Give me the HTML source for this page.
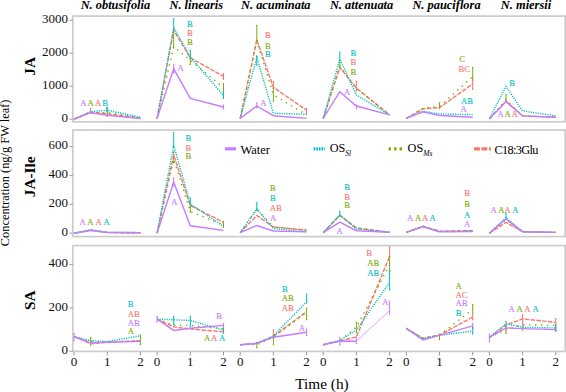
<!DOCTYPE html><html><head><meta charset="utf-8"><style>html,body{margin:0;padding:0;background:#fff;overflow:hidden;}svg{display:block;}</style></head><body>
<svg width="566" height="392" viewBox="0 0 566 392">
<rect width="566" height="392" fill="#fff"/>
<rect x="72.8" y="16.1" width="492.40000000000003" height="105.69999999999999" fill="none" stroke="#cccccc" stroke-width="1.7"/>
<line x1="69.6" y1="119.2" x2="72.8" y2="119.2" stroke="#999" stroke-width="1"/>
<text x="67.9" y="122.1" text-anchor="end" font-family="Liberation Serif, serif" font-size="13" fill="#111">0</text>
<line x1="69.6" y1="86.2" x2="72.8" y2="86.2" stroke="#999" stroke-width="1"/>
<text x="67.9" y="89.1" text-anchor="end" font-family="Liberation Serif, serif" font-size="13" fill="#111">1000</text>
<line x1="69.6" y1="53.2" x2="72.8" y2="53.2" stroke="#999" stroke-width="1"/>
<text x="67.9" y="56.1" text-anchor="end" font-family="Liberation Serif, serif" font-size="13" fill="#111">2000</text>
<line x1="69.6" y1="20.2" x2="72.8" y2="20.2" stroke="#999" stroke-width="1"/>
<text x="67.9" y="23.1" text-anchor="end" font-family="Liberation Serif, serif" font-size="13" fill="#111">3000</text>
<rect x="72.8" y="130.1" width="492.40000000000003" height="106.5" fill="none" stroke="#cccccc" stroke-width="1.7"/>
<line x1="69.6" y1="233.2" x2="72.8" y2="233.2" stroke="#999" stroke-width="1"/>
<text x="67.9" y="236.1" text-anchor="end" font-family="Liberation Serif, serif" font-size="13" fill="#111">0</text>
<line x1="69.6" y1="204.3" x2="72.8" y2="204.3" stroke="#999" stroke-width="1"/>
<text x="67.9" y="207.2" text-anchor="end" font-family="Liberation Serif, serif" font-size="13" fill="#111">200</text>
<line x1="69.6" y1="175.4" x2="72.8" y2="175.4" stroke="#999" stroke-width="1"/>
<text x="67.9" y="178.3" text-anchor="end" font-family="Liberation Serif, serif" font-size="13" fill="#111">400</text>
<line x1="69.6" y1="146.5" x2="72.8" y2="146.5" stroke="#999" stroke-width="1"/>
<text x="67.9" y="149.4" text-anchor="end" font-family="Liberation Serif, serif" font-size="13" fill="#111">600</text>
<rect x="72.8" y="245.6" width="492.40000000000003" height="105.79999999999998" fill="none" stroke="#cccccc" stroke-width="1.7"/>
<line x1="69.6" y1="351.2" x2="72.8" y2="351.2" stroke="#999" stroke-width="1"/>
<text x="67.9" y="354.1" text-anchor="end" font-family="Liberation Serif, serif" font-size="13" fill="#111">0</text>
<line x1="69.6" y1="307.9" x2="72.8" y2="307.9" stroke="#999" stroke-width="1"/>
<text x="67.9" y="310.8" text-anchor="end" font-family="Liberation Serif, serif" font-size="13" fill="#111">200</text>
<line x1="69.6" y1="264.4" x2="72.8" y2="264.4" stroke="#999" stroke-width="1"/>
<text x="67.9" y="267.3" text-anchor="end" font-family="Liberation Serif, serif" font-size="13" fill="#111">400</text>
<line x1="74.0" y1="352" x2="74.0" y2="355.4" stroke="#999" stroke-width="1"/>
<text x="74.0" y="365.6" text-anchor="middle" font-family="Liberation Serif, serif" font-size="13" fill="#111">0</text>
<line x1="107.2" y1="352" x2="107.2" y2="355.4" stroke="#999" stroke-width="1"/>
<text x="107.2" y="365.6" text-anchor="middle" font-family="Liberation Serif, serif" font-size="13" fill="#111">1</text>
<line x1="140.4" y1="352" x2="140.4" y2="355.4" stroke="#999" stroke-width="1"/>
<text x="140.4" y="365.6" text-anchor="middle" font-family="Liberation Serif, serif" font-size="13" fill="#111">2</text>
<line x1="157.1" y1="352" x2="157.1" y2="355.4" stroke="#999" stroke-width="1"/>
<text x="157.1" y="365.6" text-anchor="middle" font-family="Liberation Serif, serif" font-size="13" fill="#111">0</text>
<line x1="190.3" y1="352" x2="190.3" y2="355.4" stroke="#999" stroke-width="1"/>
<text x="190.3" y="365.6" text-anchor="middle" font-family="Liberation Serif, serif" font-size="13" fill="#111">1</text>
<line x1="223.5" y1="352" x2="223.5" y2="355.4" stroke="#999" stroke-width="1"/>
<text x="223.5" y="365.6" text-anchor="middle" font-family="Liberation Serif, serif" font-size="13" fill="#111">2</text>
<line x1="240.2" y1="352" x2="240.2" y2="355.4" stroke="#999" stroke-width="1"/>
<text x="240.2" y="365.6" text-anchor="middle" font-family="Liberation Serif, serif" font-size="13" fill="#111">0</text>
<line x1="273.4" y1="352" x2="273.4" y2="355.4" stroke="#999" stroke-width="1"/>
<text x="273.4" y="365.6" text-anchor="middle" font-family="Liberation Serif, serif" font-size="13" fill="#111">1</text>
<line x1="306.6" y1="352" x2="306.6" y2="355.4" stroke="#999" stroke-width="1"/>
<text x="306.6" y="365.6" text-anchor="middle" font-family="Liberation Serif, serif" font-size="13" fill="#111">2</text>
<line x1="323.2" y1="352" x2="323.2" y2="355.4" stroke="#999" stroke-width="1"/>
<text x="323.2" y="365.6" text-anchor="middle" font-family="Liberation Serif, serif" font-size="13" fill="#111">0</text>
<line x1="356.4" y1="352" x2="356.4" y2="355.4" stroke="#999" stroke-width="1"/>
<text x="356.4" y="365.6" text-anchor="middle" font-family="Liberation Serif, serif" font-size="13" fill="#111">1</text>
<line x1="389.6" y1="352" x2="389.6" y2="355.4" stroke="#999" stroke-width="1"/>
<text x="389.6" y="365.6" text-anchor="middle" font-family="Liberation Serif, serif" font-size="13" fill="#111">2</text>
<line x1="406.3" y1="352" x2="406.3" y2="355.4" stroke="#999" stroke-width="1"/>
<text x="406.3" y="365.6" text-anchor="middle" font-family="Liberation Serif, serif" font-size="13" fill="#111">0</text>
<line x1="439.5" y1="352" x2="439.5" y2="355.4" stroke="#999" stroke-width="1"/>
<text x="439.5" y="365.6" text-anchor="middle" font-family="Liberation Serif, serif" font-size="13" fill="#111">1</text>
<line x1="472.7" y1="352" x2="472.7" y2="355.4" stroke="#999" stroke-width="1"/>
<text x="472.7" y="365.6" text-anchor="middle" font-family="Liberation Serif, serif" font-size="13" fill="#111">2</text>
<line x1="489.4" y1="352" x2="489.4" y2="355.4" stroke="#999" stroke-width="1"/>
<text x="489.4" y="365.6" text-anchor="middle" font-family="Liberation Serif, serif" font-size="13" fill="#111">0</text>
<line x1="522.6" y1="352" x2="522.6" y2="355.4" stroke="#999" stroke-width="1"/>
<text x="522.6" y="365.6" text-anchor="middle" font-family="Liberation Serif, serif" font-size="13" fill="#111">1</text>
<line x1="555.8" y1="352" x2="555.8" y2="355.4" stroke="#999" stroke-width="1"/>
<text x="555.8" y="365.6" text-anchor="middle" font-family="Liberation Serif, serif" font-size="13" fill="#111">2</text>
<path d="M90.6,108.5V113M89.9,108.5h1.4M89.9,113h1.4" stroke="#F8766D" stroke-width="1" fill="none"/>
<path d="M107.2,108.1V116.3M106.5,108.1h1.4M106.5,116.3h1.4" stroke="#7CAE00" stroke-width="1" fill="none"/>
<path d="M107.2,107.5V112M106.5,107.5h1.4M106.5,112h1.4" stroke="#00BFC4" stroke-width="1" fill="none"/>
<polyline points="74.0,119.0 90.6,112.3 107.2,113.8 140.4,118.2" fill="none" stroke="#F8766D" stroke-width="1.4" stroke-dasharray="4.5 1.3"/>
<polyline points="74.0,119.0 90.6,113.0 107.2,112.5 140.4,118.0" fill="none" stroke="#7CAE00" stroke-width="1.4" stroke-dasharray="1.4 4.6"/>
<polyline points="74.0,119.0 90.6,111.7 107.2,110.2 140.4,117.3" fill="none" stroke="#00BFC4" stroke-width="1.4" stroke-dasharray="1.2 1.2"/>
<polyline points="74.0,119.0 90.6,112.7 107.2,115.2 140.4,118.5" fill="none" stroke="#C77CFF" stroke-width="1.4"/>
<text x="83.3" y="106.1" text-anchor="middle" font-family="Liberation Serif, serif" font-size="8.6" fill="#C77CFF" stroke="#C77CFF" stroke-width="0.12">A</text>
<text x="90.7" y="106.1" text-anchor="middle" font-family="Liberation Serif, serif" font-size="8.6" fill="#7CAE00" stroke="#7CAE00" stroke-width="0.12">A</text>
<text x="98.1" y="106.1" text-anchor="middle" font-family="Liberation Serif, serif" font-size="8.6" fill="#F8766D" stroke="#F8766D" stroke-width="0.12">A</text>
<text x="105.2" y="106.1" text-anchor="middle" font-family="Liberation Serif, serif" font-size="8.6" fill="#00BFC4" stroke="#00BFC4" stroke-width="0.12">B</text>
<path d="M173.7,18.8V29.5M173.0,18.8h1.4M173.0,29.5h1.4" stroke="#00BFC4" stroke-width="1" fill="none"/>
<path d="M173.7,31.8V47.9M173.0,31.8h1.4M173.0,47.9h1.4" stroke="#7CAE00" stroke-width="1" fill="none"/>
<path d="M173.7,64.6V73M173.0,64.6h1.4M173.0,73h1.4" stroke="#C77CFF" stroke-width="1" fill="none"/>
<path d="M190.3,50.5V59.2M189.6,50.5h1.4M189.6,59.2h1.4" stroke="#00BFC4" stroke-width="1" fill="none"/>
<path d="M190.3,57.2V64.5M189.6,57.2h1.4M189.6,64.5h1.4" stroke="#7CAE00" stroke-width="1" fill="none"/>
<path d="M223.5,73.5V79.3M222.8,73.5h1.4M222.8,79.3h1.4" stroke="#F8766D" stroke-width="1" fill="none"/>
<path d="M223.5,83.7V93.6M222.8,83.7h1.4M222.8,93.6h1.4" stroke="#7CAE00" stroke-width="1" fill="none"/>
<path d="M223.5,91.7V98.4M222.8,91.7h1.4M222.8,98.4h1.4" stroke="#00BFC4" stroke-width="1" fill="none"/>
<path d="M223.5,105V109M222.8,105h1.4M222.8,109h1.4" stroke="#C77CFF" stroke-width="1" fill="none"/>
<polyline points="157.1,118.4 173.7,30.2 190.3,57.8 223.5,76.4" fill="none" stroke="#F8766D" stroke-width="1.4" stroke-dasharray="4.5 1.3"/>
<polyline points="157.1,118.4 173.7,46.7 190.3,60.0 223.5,87.9" fill="none" stroke="#7CAE00" stroke-width="1.4" stroke-dasharray="1.4 4.6"/>
<polyline points="157.1,118.4 173.7,27.4 190.3,57.0 223.5,95.6" fill="none" stroke="#00BFC4" stroke-width="1.4" stroke-dasharray="1.2 1.2"/>
<polyline points="157.1,118.4 173.7,68.8 190.3,98.4 223.5,107.0" fill="none" stroke="#C77CFF" stroke-width="1.4"/>
<text x="189.9" y="26.8" text-anchor="middle" font-family="Liberation Serif, serif" font-size="8.6" fill="#00BFC4" stroke="#00BFC4" stroke-width="0.12">B</text>
<text x="189.9" y="36.0" text-anchor="middle" font-family="Liberation Serif, serif" font-size="8.6" fill="#F8766D" stroke="#F8766D" stroke-width="0.12">B</text>
<text x="189.9" y="45.2" text-anchor="middle" font-family="Liberation Serif, serif" font-size="8.6" fill="#7CAE00" stroke="#7CAE00" stroke-width="0.12">B</text>
<text x="180.7" y="70.7" text-anchor="middle" font-family="Liberation Serif, serif" font-size="8.6" fill="#C77CFF" stroke="#C77CFF" stroke-width="0.12">A</text>
<path d="M256.8,25.4V40.7M256.1,25.4h1.4M256.1,40.7h1.4" stroke="#7CAE00" stroke-width="1" fill="none"/>
<path d="M256.8,56V65.2M256.1,56h1.4M256.1,65.2h1.4" stroke="#00BFC4" stroke-width="1" fill="none"/>
<path d="M273.4,81.7V88.3M272.7,81.7h1.4M272.7,88.3h1.4" stroke="#F8766D" stroke-width="1" fill="none"/>
<path d="M273.4,88.3V101.3M272.7,88.3h1.4M272.7,101.3h1.4" stroke="#7CAE00" stroke-width="1" fill="none"/>
<path d="M256.8,103V108M256.1,103h1.4M256.1,108h1.4" stroke="#C77CFF" stroke-width="1" fill="none"/>
<path d="M306.6,108.5V113.8M305.9,108.5h1.4M305.9,113.8h1.4" stroke="#F8766D" stroke-width="1" fill="none"/>
<polyline points="240.2,118.4 256.8,39.8 273.4,87.4 306.6,110.2" fill="none" stroke="#F8766D" stroke-width="1.4" stroke-dasharray="4.5 1.3"/>
<polyline points="240.2,118.4 256.8,41.0 273.4,94.8 306.6,115.0" fill="none" stroke="#7CAE00" stroke-width="1.4" stroke-dasharray="1.4 4.6"/>
<polyline points="240.2,118.4 256.8,57.5 273.4,113.3 306.6,114.3" fill="none" stroke="#00BFC4" stroke-width="1.4" stroke-dasharray="1.2 1.2"/>
<polyline points="240.2,118.4 256.8,106.0 273.4,115.7 306.6,118.4" fill="none" stroke="#C77CFF" stroke-width="1.4"/>
<text x="267.9" y="38.2" text-anchor="middle" font-family="Liberation Serif, serif" font-size="8.6" fill="#F8766D" stroke="#F8766D" stroke-width="0.12">B</text>
<text x="267.9" y="48.9" text-anchor="middle" font-family="Liberation Serif, serif" font-size="8.6" fill="#7CAE00" stroke="#7CAE00" stroke-width="0.12">B</text>
<text x="267.9" y="56.9" text-anchor="middle" font-family="Liberation Serif, serif" font-size="8.6" fill="#00BFC4" stroke="#00BFC4" stroke-width="0.12">B</text>
<text x="263.4" y="106.2" text-anchor="middle" font-family="Liberation Serif, serif" font-size="8.6" fill="#C77CFF" stroke="#C77CFF" stroke-width="0.12">A</text>
<path d="M339.8,52.2V60.5M339.1,52.2h1.4M339.1,60.5h1.4" stroke="#00BFC4" stroke-width="1" fill="none"/>
<path d="M339.8,61.9V68.8M339.1,61.9h1.4M339.1,68.8h1.4" stroke="#7CAE00" stroke-width="1" fill="none"/>
<path d="M356.4,81.2V90.9M355.7,81.2h1.4M355.7,90.9h1.4" stroke="#F8766D" stroke-width="1" fill="none"/>
<path d="M356.4,105V108.8M355.7,105h1.4M355.7,108.8h1.4" stroke="#C77CFF" stroke-width="1" fill="none"/>
<polyline points="323.2,118.4 339.8,67.4 356.4,88.1 389.6,114.9" fill="none" stroke="#F8766D" stroke-width="1.4" stroke-dasharray="4.5 1.3"/>
<polyline points="323.2,118.4 339.8,66.0 356.4,88.5 389.6,114.9" fill="none" stroke="#7CAE00" stroke-width="1.4" stroke-dasharray="1.4 4.6"/>
<polyline points="323.2,118.4 339.8,59.1 356.4,95.0 389.6,114.9" fill="none" stroke="#00BFC4" stroke-width="1.4" stroke-dasharray="1.2 1.2"/>
<polyline points="323.2,118.4 339.8,91.7 356.4,106.0 389.6,114.9" fill="none" stroke="#C77CFF" stroke-width="1.4"/>
<text x="353.3" y="55.7" text-anchor="middle" font-family="Liberation Serif, serif" font-size="8.6" fill="#00BFC4" stroke="#00BFC4" stroke-width="0.12">B</text>
<text x="353.3" y="65.3" text-anchor="middle" font-family="Liberation Serif, serif" font-size="8.6" fill="#F8766D" stroke="#F8766D" stroke-width="0.12">B</text>
<text x="353.3" y="74.5" text-anchor="middle" font-family="Liberation Serif, serif" font-size="8.6" fill="#7CAE00" stroke="#7CAE00" stroke-width="0.12">B</text>
<text x="347" y="94.6" text-anchor="middle" font-family="Liberation Serif, serif" font-size="8.6" fill="#C77CFF" stroke="#C77CFF" stroke-width="0.12">A</text>
<path d="M472.7,67.5V80.3M472.0,67.5h1.4M472.0,80.3h1.4" stroke="#7CAE00" stroke-width="1" fill="none"/>
<path d="M472.7,77.6V89.5M472.0,77.6h1.4M472.0,89.5h1.4" stroke="#F8766D" stroke-width="1" fill="none"/>
<path d="M439.5,102.8V108.8M438.8,102.8h1.4M438.8,108.8h1.4" stroke="#7CAE00" stroke-width="1" fill="none"/>
<polyline points="406.3,118.4 422.9,108.8 439.5,107.6 472.7,84.0" fill="none" stroke="#F8766D" stroke-width="1.4" stroke-dasharray="4.5 1.3"/>
<polyline points="406.3,118.4 422.9,108.3 439.5,106.3 472.7,76.7" fill="none" stroke="#7CAE00" stroke-width="1.4" stroke-dasharray="1.4 4.6"/>
<polyline points="406.3,118.4 422.9,111.3 439.5,114.0 472.7,114.6" fill="none" stroke="#00BFC4" stroke-width="1.4" stroke-dasharray="1.2 1.2"/>
<polyline points="406.3,118.4 422.9,111.8 439.5,115.5 472.7,117.3" fill="none" stroke="#C77CFF" stroke-width="1.4"/>
<text x="462" y="61.5" text-anchor="middle" font-family="Liberation Serif, serif" font-size="8.6" fill="#7CAE00" stroke="#7CAE00" stroke-width="0.12">C</text>
<text x="464.3" y="71.8" text-anchor="middle" font-family="Liberation Serif, serif" font-size="8.6" fill="#F8766D" stroke="#F8766D" stroke-width="0.12">BC</text>
<text x="467" y="104.4" text-anchor="middle" font-family="Liberation Serif, serif" font-size="8.6" fill="#00BFC4" stroke="#00BFC4" stroke-width="0.12">AB</text>
<text x="463.5" y="112.1" text-anchor="middle" font-family="Liberation Serif, serif" font-size="8.6" fill="#C77CFF" stroke="#C77CFF" stroke-width="0.12">A</text>
<path d="M506.0,94.7V102.5M505.3,94.7h1.4M505.3,102.5h1.4" stroke="#7CAE00" stroke-width="1" fill="none"/>
<polyline points="489.4,118.8 506.0,101.1 522.6,115.9 555.8,117.3" fill="none" stroke="#F8766D" stroke-width="1.4" stroke-dasharray="4.5 1.3"/>
<polyline points="489.4,118.8 506.0,99.7 522.6,115.9 555.8,117.3" fill="none" stroke="#7CAE00" stroke-width="1.4" stroke-dasharray="1.4 4.6"/>
<polyline points="489.4,118.8 506.0,86.3 522.6,111.0 555.8,115.9" fill="none" stroke="#00BFC4" stroke-width="1.4" stroke-dasharray="1.2 1.2"/>
<polyline points="489.4,118.8 506.0,101.8 522.6,115.9 555.8,117.3" fill="none" stroke="#C77CFF" stroke-width="1.4"/>
<text x="512.1" y="86.3" text-anchor="middle" font-family="Liberation Serif, serif" font-size="8.6" fill="#00BFC4" stroke="#00BFC4" stroke-width="0.12">B</text>
<text x="500.5" y="117.4" text-anchor="middle" font-family="Liberation Serif, serif" font-size="8.6" fill="#C77CFF" stroke="#C77CFF" stroke-width="0.12">A</text>
<text x="507.6" y="117.4" text-anchor="middle" font-family="Liberation Serif, serif" font-size="8.6" fill="#7CAE00" stroke="#7CAE00" stroke-width="0.12">A</text>
<text x="514.7" y="117.4" text-anchor="middle" font-family="Liberation Serif, serif" font-size="8.6" fill="#F8766D" stroke="#F8766D" stroke-width="0.12">A</text>
<polyline points="74.0,233.2 90.6,230.2 107.2,232.6 140.4,232.8" fill="none" stroke="#F8766D" stroke-width="1.4" stroke-dasharray="4.5 1.3"/>
<polyline points="74.0,233.2 90.6,230.0 107.2,232.6 140.4,232.8" fill="none" stroke="#7CAE00" stroke-width="1.4" stroke-dasharray="1.4 4.6"/>
<polyline points="74.0,233.2 90.6,229.8 107.2,232.4 140.4,232.6" fill="none" stroke="#00BFC4" stroke-width="1.4" stroke-dasharray="1.2 1.2"/>
<polyline points="74.0,233.2 90.6,230.5 107.2,232.3 140.4,232.8" fill="none" stroke="#C77CFF" stroke-width="1.4"/>
<text x="82.6" y="224.8" text-anchor="middle" font-family="Liberation Serif, serif" font-size="8.6" fill="#C77CFF" stroke="#C77CFF" stroke-width="0.12">A</text>
<text x="90.4" y="224.8" text-anchor="middle" font-family="Liberation Serif, serif" font-size="8.6" fill="#7CAE00" stroke="#7CAE00" stroke-width="0.12">A</text>
<text x="98.6" y="224.8" text-anchor="middle" font-family="Liberation Serif, serif" font-size="8.6" fill="#F8766D" stroke="#F8766D" stroke-width="0.12">A</text>
<text x="106.6" y="224.8" text-anchor="middle" font-family="Liberation Serif, serif" font-size="8.6" fill="#00BFC4" stroke="#00BFC4" stroke-width="0.12">A</text>
<path d="M173.7,132.7V147M173.0,132.7h1.4M173.0,147h1.4" stroke="#00BFC4" stroke-width="1" fill="none"/>
<path d="M173.7,151.7V162.8M173.0,151.7h1.4M173.0,162.8h1.4" stroke="#7CAE00" stroke-width="1" fill="none"/>
<path d="M173.7,178V186M173.0,178h1.4M173.0,186h1.4" stroke="#C77CFF" stroke-width="1" fill="none"/>
<path d="M190.3,198V207M189.6,198h1.4M189.6,207h1.4" stroke="#00BFC4" stroke-width="1" fill="none"/>
<path d="M190.3,207.6V212.3M189.6,207.6h1.4M189.6,212.3h1.4" stroke="#7CAE00" stroke-width="1" fill="none"/>
<path d="M223.5,221.7V227.6M222.8,221.7h1.4M222.8,227.6h1.4" stroke="#7CAE00" stroke-width="1" fill="none"/>
<polyline points="157.1,233.0 173.7,155.0 190.3,205.5 223.5,222.3" fill="none" stroke="#F8766D" stroke-width="1.4" stroke-dasharray="4.5 1.3"/>
<polyline points="157.1,233.0 173.7,159.0 190.3,211.5 223.5,225.0" fill="none" stroke="#7CAE00" stroke-width="1.4" stroke-dasharray="1.4 4.6"/>
<polyline points="157.1,233.0 173.7,145.4 190.3,203.8 223.5,226.4" fill="none" stroke="#00BFC4" stroke-width="1.4" stroke-dasharray="1.2 1.2"/>
<polyline points="157.1,233.0 173.7,182.2 190.3,225.8 223.5,230.4" fill="none" stroke="#C77CFF" stroke-width="1.4"/>
<text x="188.4" y="141.3" text-anchor="middle" font-family="Liberation Serif, serif" font-size="8.6" fill="#00BFC4" stroke="#00BFC4" stroke-width="0.12">B</text>
<text x="188.4" y="150.5" text-anchor="middle" font-family="Liberation Serif, serif" font-size="8.6" fill="#F8766D" stroke="#F8766D" stroke-width="0.12">B</text>
<text x="188.4" y="159.1" text-anchor="middle" font-family="Liberation Serif, serif" font-size="8.6" fill="#7CAE00" stroke="#7CAE00" stroke-width="0.12">B</text>
<text x="174.4" y="205.3" text-anchor="middle" font-family="Liberation Serif, serif" font-size="8.6" fill="#C77CFF" stroke="#C77CFF" stroke-width="0.12">A</text>
<path d="M256.8,202.7V210.6M256.1,202.7h1.4M256.1,210.6h1.4" stroke="#00BFC4" stroke-width="1" fill="none"/>
<polyline points="240.2,232.7 256.8,215.5 273.4,227.0 306.6,230.3" fill="none" stroke="#F8766D" stroke-width="1.4" stroke-dasharray="4.5 1.3"/>
<polyline points="240.2,232.7 256.8,209.2 273.4,226.8 306.6,230.1" fill="none" stroke="#7CAE00" stroke-width="1.4" stroke-dasharray="1.4 4.6"/>
<polyline points="240.2,232.7 256.8,209.0 273.4,228.6 306.6,231.8" fill="none" stroke="#00BFC4" stroke-width="1.4" stroke-dasharray="1.2 1.2"/>
<polyline points="240.2,232.7 256.8,225.5 273.4,231.0 306.6,231.9" fill="none" stroke="#C77CFF" stroke-width="1.4"/>
<text x="272.9" y="191.3" text-anchor="middle" font-family="Liberation Serif, serif" font-size="8.6" fill="#7CAE00" stroke="#7CAE00" stroke-width="0.12">B</text>
<text x="272.9" y="201.3" text-anchor="middle" font-family="Liberation Serif, serif" font-size="8.6" fill="#00BFC4" stroke="#00BFC4" stroke-width="0.12">B</text>
<text x="275.7" y="211.1" text-anchor="middle" font-family="Liberation Serif, serif" font-size="8.6" fill="#F8766D" stroke="#F8766D" stroke-width="0.12">AB</text>
<text x="273" y="220.6" text-anchor="middle" font-family="Liberation Serif, serif" font-size="8.6" fill="#C77CFF" stroke="#C77CFF" stroke-width="0.12">A</text>
<path d="M339.8,211.4V216M339.1,211.4h1.4M339.1,216h1.4" stroke="#00BFC4" stroke-width="1" fill="none"/>
<polyline points="323.2,232.7 339.8,215.3 356.4,228.0 389.6,232.2" fill="none" stroke="#F8766D" stroke-width="1.4" stroke-dasharray="4.5 1.3"/>
<polyline points="323.2,232.7 339.8,215.5 356.4,228.0 389.6,232.2" fill="none" stroke="#7CAE00" stroke-width="1.4" stroke-dasharray="1.4 4.6"/>
<polyline points="323.2,232.7 339.8,215.0 356.4,229.0 389.6,232.2" fill="none" stroke="#00BFC4" stroke-width="1.4" stroke-dasharray="1.2 1.2"/>
<polyline points="323.2,232.7 339.8,222.1 356.4,230.7 389.6,232.2" fill="none" stroke="#C77CFF" stroke-width="1.4"/>
<text x="347.2" y="190.2" text-anchor="middle" font-family="Liberation Serif, serif" font-size="8.6" fill="#00BFC4" stroke="#00BFC4" stroke-width="0.12">B</text>
<text x="347.2" y="200.0" text-anchor="middle" font-family="Liberation Serif, serif" font-size="8.6" fill="#F8766D" stroke="#F8766D" stroke-width="0.12">B</text>
<text x="347.2" y="208.3" text-anchor="middle" font-family="Liberation Serif, serif" font-size="8.6" fill="#7CAE00" stroke="#7CAE00" stroke-width="0.12">B</text>
<text x="339.7" y="234.0" text-anchor="middle" font-family="Liberation Serif, serif" font-size="8.6" fill="#C77CFF" stroke="#C77CFF" stroke-width="0.12">A</text>
<polyline points="406.3,232.4 422.9,226.3 439.5,231.2 472.7,230.6" fill="none" stroke="#F8766D" stroke-width="1.4" stroke-dasharray="4.5 1.3"/>
<polyline points="406.3,232.4 422.9,226.1 439.5,231.4 472.7,231.0" fill="none" stroke="#7CAE00" stroke-width="1.4" stroke-dasharray="1.4 4.6"/>
<polyline points="406.3,232.4 422.9,226.6 439.5,231.6 472.7,231.2" fill="none" stroke="#00BFC4" stroke-width="1.4" stroke-dasharray="1.2 1.2"/>
<polyline points="406.3,232.4 422.9,226.8 439.5,231.8 472.7,231.6" fill="none" stroke="#C77CFF" stroke-width="1.4"/>
<text x="410.2" y="221.4" text-anchor="middle" font-family="Liberation Serif, serif" font-size="8.6" fill="#C77CFF" stroke="#C77CFF" stroke-width="0.12">A</text>
<text x="418.2" y="221.4" text-anchor="middle" font-family="Liberation Serif, serif" font-size="8.6" fill="#7CAE00" stroke="#7CAE00" stroke-width="0.12">A</text>
<text x="425" y="221.4" text-anchor="middle" font-family="Liberation Serif, serif" font-size="8.6" fill="#F8766D" stroke="#F8766D" stroke-width="0.12">A</text>
<text x="432.7" y="221.4" text-anchor="middle" font-family="Liberation Serif, serif" font-size="8.6" fill="#00BFC4" stroke="#00BFC4" stroke-width="0.12">A</text>
<text x="467.2" y="196.0" text-anchor="middle" font-family="Liberation Serif, serif" font-size="8.6" fill="#F8766D" stroke="#F8766D" stroke-width="0.12">B</text>
<text x="467.2" y="206.9" text-anchor="middle" font-family="Liberation Serif, serif" font-size="8.6" fill="#7CAE00" stroke="#7CAE00" stroke-width="0.12">B</text>
<text x="467.2" y="217.5" text-anchor="middle" font-family="Liberation Serif, serif" font-size="8.6" fill="#00BFC4" stroke="#00BFC4" stroke-width="0.12">A</text>
<text x="467.2" y="227.3" text-anchor="middle" font-family="Liberation Serif, serif" font-size="8.6" fill="#C77CFF" stroke="#C77CFF" stroke-width="0.12">A</text>
<path d="M506.0,213.3V218M505.3,213.3h1.4M505.3,218h1.4" stroke="#00BFC4" stroke-width="1" fill="none"/>
<polyline points="489.4,233.1 506.0,222.5 522.6,231.7 555.8,232.4" fill="none" stroke="#F8766D" stroke-width="1.4" stroke-dasharray="4.5 1.3"/>
<polyline points="489.4,233.1 506.0,220.0 522.6,231.7 555.8,232.4" fill="none" stroke="#7CAE00" stroke-width="1.4" stroke-dasharray="1.4 4.6"/>
<polyline points="489.4,233.1 506.0,217.6 522.6,231.7 555.8,232.4" fill="none" stroke="#00BFC4" stroke-width="1.4" stroke-dasharray="1.2 1.2"/>
<polyline points="489.4,233.1 506.0,219.0 522.6,231.7 555.8,232.4" fill="none" stroke="#C77CFF" stroke-width="1.4"/>
<text x="493.5" y="212.7" text-anchor="middle" font-family="Liberation Serif, serif" font-size="8.6" fill="#C77CFF" stroke="#C77CFF" stroke-width="0.12">A</text>
<text x="501.3" y="212.7" text-anchor="middle" font-family="Liberation Serif, serif" font-size="8.6" fill="#7CAE00" stroke="#7CAE00" stroke-width="0.12">A</text>
<text x="507.6" y="212.7" text-anchor="middle" font-family="Liberation Serif, serif" font-size="8.6" fill="#F8766D" stroke="#F8766D" stroke-width="0.12">A</text>
<text x="515.4" y="212.7" text-anchor="middle" font-family="Liberation Serif, serif" font-size="8.6" fill="#00BFC4" stroke="#00BFC4" stroke-width="0.12">A</text>
<path d="M74.0,333.5V340.6M73.3,333.5h1.4M73.3,340.6h1.4" stroke="#C77CFF" stroke-width="1" fill="none"/>
<path d="M90.6,337.4V345.3M89.9,337.4h1.4M89.9,345.3h1.4" stroke="#7CAE00" stroke-width="1" fill="none"/>
<path d="M140.4,335V344.5M139.7,335h1.4M139.7,344.5h1.4" stroke="#7CAE00" stroke-width="1" fill="none"/>
<polyline points="74.0,336.6 90.6,343.8 107.2,342.2 140.4,340.6" fill="none" stroke="#F8766D" stroke-width="1.4" stroke-dasharray="4.5 1.3"/>
<polyline points="74.0,336.6 90.6,341.5 107.2,342.2 140.4,340.6" fill="none" stroke="#7CAE00" stroke-width="1.4" stroke-dasharray="1.4 4.6"/>
<polyline points="74.0,336.6 90.6,340.6 107.2,341.5 140.4,335.8" fill="none" stroke="#00BFC4" stroke-width="1.4" stroke-dasharray="1.2 1.2"/>
<polyline points="74.0,336.6 90.6,343.0 107.2,342.2 140.4,341.4" fill="none" stroke="#C77CFF" stroke-width="1.4"/>
<text x="130.5" y="306.8" text-anchor="middle" font-family="Liberation Serif, serif" font-size="8.6" fill="#00BFC4" stroke="#00BFC4" stroke-width="0.12">B</text>
<text x="133.7" y="316.9" text-anchor="middle" font-family="Liberation Serif, serif" font-size="8.6" fill="#F8766D" stroke="#F8766D" stroke-width="0.12">AB</text>
<text x="133.7" y="325.6" text-anchor="middle" font-family="Liberation Serif, serif" font-size="8.6" fill="#C77CFF" stroke="#C77CFF" stroke-width="0.12">AB</text>
<text x="130.8" y="334.3" text-anchor="middle" font-family="Liberation Serif, serif" font-size="8.6" fill="#7CAE00" stroke="#7CAE00" stroke-width="0.12">A</text>
<path d="M157.1,316.5V322M156.4,316.5h1.4M156.4,322h1.4" stroke="#C77CFF" stroke-width="1" fill="none"/>
<path d="M173.7,316.3V324.7M173.0,316.3h1.4M173.0,324.7h1.4" stroke="#00BFC4" stroke-width="1" fill="none"/>
<path d="M190.3,316.3V326.9M189.6,316.3h1.4M189.6,326.9h1.4" stroke="#00BFC4" stroke-width="1" fill="none"/>
<path d="M223.5,323.3V327.6M222.8,323.3h1.4M222.8,327.6h1.4" stroke="#C77CFF" stroke-width="1" fill="none"/>
<path d="M223.5,328.3V333.2M222.8,328.3h1.4M222.8,333.2h1.4" stroke="#00BFC4" stroke-width="1" fill="none"/>
<polyline points="157.1,319.1 173.7,326.9 190.3,329.0 223.5,331.8" fill="none" stroke="#F8766D" stroke-width="1.4" stroke-dasharray="4.5 1.3"/>
<polyline points="157.1,319.1 173.7,325.4 190.3,325.4 223.5,329.0" fill="none" stroke="#7CAE00" stroke-width="1.4" stroke-dasharray="1.4 4.6"/>
<polyline points="157.1,319.1 173.7,319.8 190.3,320.5 223.5,330.0" fill="none" stroke="#00BFC4" stroke-width="1.4" stroke-dasharray="1.2 1.2"/>
<polyline points="157.1,319.1 173.7,330.4 190.3,328.3 223.5,325.4" fill="none" stroke="#C77CFF" stroke-width="1.4"/>
<text x="219.1" y="319.2" text-anchor="middle" font-family="Liberation Serif, serif" font-size="8.6" fill="#C77CFF" stroke="#C77CFF" stroke-width="0.12">B</text>
<text x="207.1" y="340.8" text-anchor="middle" font-family="Liberation Serif, serif" font-size="8.6" fill="#7CAE00" stroke="#7CAE00" stroke-width="0.12">A</text>
<text x="214.2" y="340.8" text-anchor="middle" font-family="Liberation Serif, serif" font-size="8.6" fill="#F8766D" stroke="#F8766D" stroke-width="0.12">A</text>
<text x="222" y="340.8" text-anchor="middle" font-family="Liberation Serif, serif" font-size="8.6" fill="#00BFC4" stroke="#00BFC4" stroke-width="0.12">A</text>
<path d="M273.4,329.8V336.4M272.7,329.8h1.4M272.7,336.4h1.4" stroke="#F8766D" stroke-width="1" fill="none"/>
<path d="M273.4,338V344.7M272.7,338h1.4M272.7,344.7h1.4" stroke="#7CAE00" stroke-width="1" fill="none"/>
<path d="M256.8,342.5V347.8M256.1,342.5h1.4M256.1,347.8h1.4" stroke="#7CAE00" stroke-width="1" fill="none"/>
<path d="M306.6,294.1V303.2M305.9,294.1h1.4M305.9,303.2h1.4" stroke="#00BFC4" stroke-width="1" fill="none"/>
<path d="M306.6,308.2V319.8M305.9,308.2h1.4M305.9,319.8h1.4" stroke="#7CAE00" stroke-width="1" fill="none"/>
<path d="M306.6,329V335.6M305.9,329h1.4M305.9,335.6h1.4" stroke="#C77CFF" stroke-width="1" fill="none"/>
<polyline points="240.2,344.7 256.8,343.5 273.4,336.4 306.6,311.5" fill="none" stroke="#F8766D" stroke-width="1.4" stroke-dasharray="4.5 1.3"/>
<polyline points="240.2,344.7 256.8,344.6 273.4,337.2 306.6,312.3" fill="none" stroke="#7CAE00" stroke-width="1.4" stroke-dasharray="1.4 4.6"/>
<polyline points="240.2,344.7 256.8,343.3 273.4,335.8 306.6,301.8" fill="none" stroke="#00BFC4" stroke-width="1.4" stroke-dasharray="1.2 1.2"/>
<polyline points="240.2,344.7 256.8,343.6 273.4,337.2 306.6,332.3" fill="none" stroke="#C77CFF" stroke-width="1.4"/>
<text x="284.8" y="292.2" text-anchor="middle" font-family="Liberation Serif, serif" font-size="8.6" fill="#00BFC4" stroke="#00BFC4" stroke-width="0.12">B</text>
<text x="287.8" y="300.9" text-anchor="middle" font-family="Liberation Serif, serif" font-size="8.6" fill="#7CAE00" stroke="#7CAE00" stroke-width="0.12">AB</text>
<text x="287.8" y="311.0" text-anchor="middle" font-family="Liberation Serif, serif" font-size="8.6" fill="#F8766D" stroke="#F8766D" stroke-width="0.12">AB</text>
<text x="301.9" y="331.0" text-anchor="middle" font-family="Liberation Serif, serif" font-size="8.6" fill="#C77CFF" stroke="#C77CFF" stroke-width="0.12">A</text>
<path d="M389.6,246.9V256.5M388.9,246.9h1.4M388.9,256.5h1.4" stroke="#F8766D" stroke-width="1" fill="none"/>
<path d="M389.6,256.5V270.9M388.9,256.5h1.4M388.9,270.9h1.4" stroke="#7CAE00" stroke-width="1" fill="none"/>
<path d="M389.6,270.9V290M388.9,270.9h1.4M388.9,290h1.4" stroke="#00BFC4" stroke-width="1" fill="none"/>
<path d="M389.6,301.3V314M388.9,301.3h1.4M388.9,314h1.4" stroke="#C77CFF" stroke-width="1" fill="none"/>
<path d="M356.4,322.3V332.9M355.7,322.3h1.4M355.7,332.9h1.4" stroke="#7CAE00" stroke-width="1" fill="none"/>
<path d="M356.4,337V343.4M355.7,337h1.4M355.7,343.4h1.4" stroke="#C77CFF" stroke-width="1" fill="none"/>
<path d="M339.8,337.5V345M339.1,337.5h1.4M339.1,345h1.4" stroke="#C77CFF" stroke-width="1" fill="none"/>
<polyline points="323.2,344.7 339.8,341.0 356.4,337.0 389.6,256.5" fill="none" stroke="#F8766D" stroke-width="1.4" stroke-dasharray="4.5 1.3"/>
<polyline points="323.2,344.7 339.8,341.0 356.4,327.0 389.6,265.1" fill="none" stroke="#7CAE00" stroke-width="1.4" stroke-dasharray="1.4 4.6"/>
<polyline points="323.2,344.7 339.8,340.3 356.4,330.0 389.6,282.4" fill="none" stroke="#00BFC4" stroke-width="1.4" stroke-dasharray="1.2 1.2"/>
<polyline points="323.2,344.7 339.8,341.0 356.4,341.2" fill="none" stroke="#C77CFF" stroke-width="1.4"/>
<line x1="356.4" y1="341.2" x2="389.6" y2="310.6" stroke="#C77CFF" stroke-width="0.7"/>
<text x="369.2" y="255.9" text-anchor="middle" font-family="Liberation Serif, serif" font-size="8.6" fill="#F8766D" stroke="#F8766D" stroke-width="0.12">B</text>
<text x="373.3" y="266.1" text-anchor="middle" font-family="Liberation Serif, serif" font-size="8.6" fill="#7CAE00" stroke="#7CAE00" stroke-width="0.12">AB</text>
<text x="373.3" y="276.3" text-anchor="middle" font-family="Liberation Serif, serif" font-size="8.6" fill="#00BFC4" stroke="#00BFC4" stroke-width="0.12">AB</text>
<text x="385.4" y="305.4" text-anchor="middle" font-family="Liberation Serif, serif" font-size="8.6" fill="#C77CFF" stroke="#C77CFF" stroke-width="0.12">A</text>
<path d="M472.7,304.6V312.8M472.0,304.6h1.4M472.0,312.8h1.4" stroke="#7CAE00" stroke-width="1" fill="none"/>
<path d="M472.7,314V319.9M472.0,314h1.4M472.0,319.9h1.4" stroke="#F8766D" stroke-width="1" fill="none"/>
<path d="M472.7,323.4V328.5M472.0,323.4h1.4M472.0,328.5h1.4" stroke="#C77CFF" stroke-width="1" fill="none"/>
<path d="M472.7,326.9V334M472.0,326.9h1.4M472.0,334h1.4" stroke="#00BFC4" stroke-width="1" fill="none"/>
<path d="M439.5,334V339.8M438.8,334h1.4M438.8,339.8h1.4" stroke="#7CAE00" stroke-width="1" fill="none"/>
<polyline points="406.3,328.4 422.9,338.4 439.5,335.1 472.7,317.0" fill="none" stroke="#F8766D" stroke-width="1.4" stroke-dasharray="4.5 1.3"/>
<polyline points="406.3,328.4 422.9,338.4 439.5,335.1 472.7,309.3" fill="none" stroke="#7CAE00" stroke-width="1.4" stroke-dasharray="1.4 4.6"/>
<polyline points="406.3,328.4 422.9,338.6 439.5,335.3 472.7,331.0" fill="none" stroke="#00BFC4" stroke-width="1.4" stroke-dasharray="1.2 1.2"/>
<polyline points="406.3,328.4 422.9,340.0 439.5,335.3 472.7,325.8" fill="none" stroke="#C77CFF" stroke-width="1.4"/>
<text x="458.7" y="288.7" text-anchor="middle" font-family="Liberation Serif, serif" font-size="8.6" fill="#7CAE00" stroke="#7CAE00" stroke-width="0.12">A</text>
<text x="461.4" y="297.6" text-anchor="middle" font-family="Liberation Serif, serif" font-size="8.6" fill="#F8766D" stroke="#F8766D" stroke-width="0.12">AC</text>
<text x="461.5" y="306.3" text-anchor="middle" font-family="Liberation Serif, serif" font-size="8.6" fill="#C77CFF" stroke="#C77CFF" stroke-width="0.12">AB</text>
<text x="458.7" y="315.7" text-anchor="middle" font-family="Liberation Serif, serif" font-size="8.6" fill="#00BFC4" stroke="#00BFC4" stroke-width="0.12">B</text>
<path d="M489.4,334.2V341.9M488.7,334.2h1.4M488.7,341.9h1.4" stroke="#C77CFF" stroke-width="1" fill="none"/>
<path d="M506.0,327V333.5M505.3,327h1.4M505.3,333.5h1.4" stroke="#7CAE00" stroke-width="1" fill="none"/>
<path d="M506.0,321.6V326.5M505.3,321.6h1.4M505.3,326.5h1.4" stroke="#00BFC4" stroke-width="1" fill="none"/>
<path d="M522.6,314.5V330.3M521.9,314.5h1.4M521.9,330.3h1.4" stroke="#F8766D" stroke-width="1" fill="none"/>
<path d="M555.8,318.5V331.1M555.1,318.5h1.4M555.1,331.1h1.4" stroke="#F8766D" stroke-width="1" fill="none"/>
<path d="M555.8,325V331M555.1,325h1.4M555.1,331h1.4" stroke="#00BFC4" stroke-width="1" fill="none"/>
<polyline points="489.4,337.4 506.0,325.0 522.6,318.9 555.8,322.3" fill="none" stroke="#F8766D" stroke-width="1.4" stroke-dasharray="4.5 1.3"/>
<polyline points="489.4,337.4 506.0,329.5 522.6,324.8 555.8,325.2" fill="none" stroke="#7CAE00" stroke-width="1.4" stroke-dasharray="1.4 4.6"/>
<polyline points="489.4,337.4 506.0,323.8 522.6,327.2 555.8,328.0" fill="none" stroke="#00BFC4" stroke-width="1.4" stroke-dasharray="1.2 1.2"/>
<polyline points="489.4,337.4 506.0,328.0 522.6,328.6 555.8,329.6" fill="none" stroke="#C77CFF" stroke-width="1.4"/>
<text x="511.6" y="312.2" text-anchor="middle" font-family="Liberation Serif, serif" font-size="8.6" fill="#C77CFF" stroke="#C77CFF" stroke-width="0.12">A</text>
<text x="519.5" y="312.2" text-anchor="middle" font-family="Liberation Serif, serif" font-size="8.6" fill="#7CAE00" stroke="#7CAE00" stroke-width="0.12">A</text>
<text x="527.4" y="312.2" text-anchor="middle" font-family="Liberation Serif, serif" font-size="8.6" fill="#F8766D" stroke="#F8766D" stroke-width="0.12">A</text>
<text x="535.6" y="312.2" text-anchor="middle" font-family="Liberation Serif, serif" font-size="8.6" fill="#00BFC4" stroke="#00BFC4" stroke-width="0.12">A</text>
<text x="115.4" y="8.6" text-anchor="middle" font-family="Liberation Serif, serif" font-weight="bold" font-style="italic" font-size="12.4" fill="#000">N. obtusifolia</text>
<text x="196.3" y="8.6" text-anchor="middle" font-family="Liberation Serif, serif" font-weight="bold" font-style="italic" font-size="12.4" fill="#000">N. linearis</text>
<text x="275.8" y="8.6" text-anchor="middle" font-family="Liberation Serif, serif" font-weight="bold" font-style="italic" font-size="12.4" fill="#000">N. acuminata</text>
<text x="361.6" y="8.6" text-anchor="middle" font-family="Liberation Serif, serif" font-weight="bold" font-style="italic" font-size="12.4" fill="#000">N. attenuata</text>
<text x="446.5" y="8.6" text-anchor="middle" font-family="Liberation Serif, serif" font-weight="bold" font-style="italic" font-size="12.4" fill="#000">N. pauciflora</text>
<text x="526" y="8.6" text-anchor="middle" font-family="Liberation Serif, serif" font-weight="bold" font-style="italic" font-size="12.4" fill="#000">N. miersii</text>
<text transform="translate(35,66.3) rotate(-90)" x="0" y="0" text-anchor="middle" font-family="Liberation Serif, serif" font-weight="bold" font-size="15.3" fill="#000">JA</text>
<text transform="translate(35,176.8) rotate(-90)" x="0" y="0" text-anchor="middle" font-family="Liberation Serif, serif" font-weight="bold" font-size="15.3" fill="#000">JA-Ile</text>
<text transform="translate(35,300.3) rotate(-90)" x="0" y="0" text-anchor="middle" font-family="Liberation Serif, serif" font-weight="bold" font-size="15.3" fill="#000">SA</text>
<text transform="translate(8.5,172.9) rotate(-90)" text-anchor="middle" font-family="Liberation Serif, serif" font-size="12.4" fill="#000">Concentration (ng/g FW leaf)</text>
<text x="322" y="388.9" text-anchor="middle" font-family="Liberation Serif, serif" font-size="15.3" fill="#000">Time (h)</text>
<line x1="224.9" y1="148.8" x2="236.1" y2="148.8" stroke="#C77CFF" stroke-width="3.2"/>
<text x="240.4" y="153.8" font-family="Liberation Serif, serif" font-size="12.5" fill="#000">Water</text>
<line x1="313.7" y1="148.8" x2="324.8" y2="148.8" stroke="#00BFC4" stroke-width="3.2" stroke-dasharray="1.6 1"/>
<text x="329.7" y="152" font-family="Liberation Serif, serif" font-size="12.2" fill="#000">OS<tspan dy="3.5" font-size="7.5" font-style="italic">Sl</tspan></text>
<line x1="388.6" y1="148.8" x2="402.6" y2="148.8" stroke="#7CAE00" stroke-width="3.2" stroke-dasharray="2.4 3.1"/>
<text x="407.6" y="152" font-family="Liberation Serif, serif" font-size="12.2" fill="#000">OS<tspan dy="3.5" font-size="7.5" font-style="italic">Ms</tspan></text>
<line x1="474.1" y1="148.8" x2="490.9" y2="148.8" stroke="#F8766D" stroke-width="3.2" stroke-dasharray="5.8 1.6"/>
<text x="494.5" y="153.7" font-family="Liberation Serif, serif" font-size="12.3" fill="#000" textLength="44" lengthAdjust="spacing">C18:3Glu</text>
</svg></body></html>
